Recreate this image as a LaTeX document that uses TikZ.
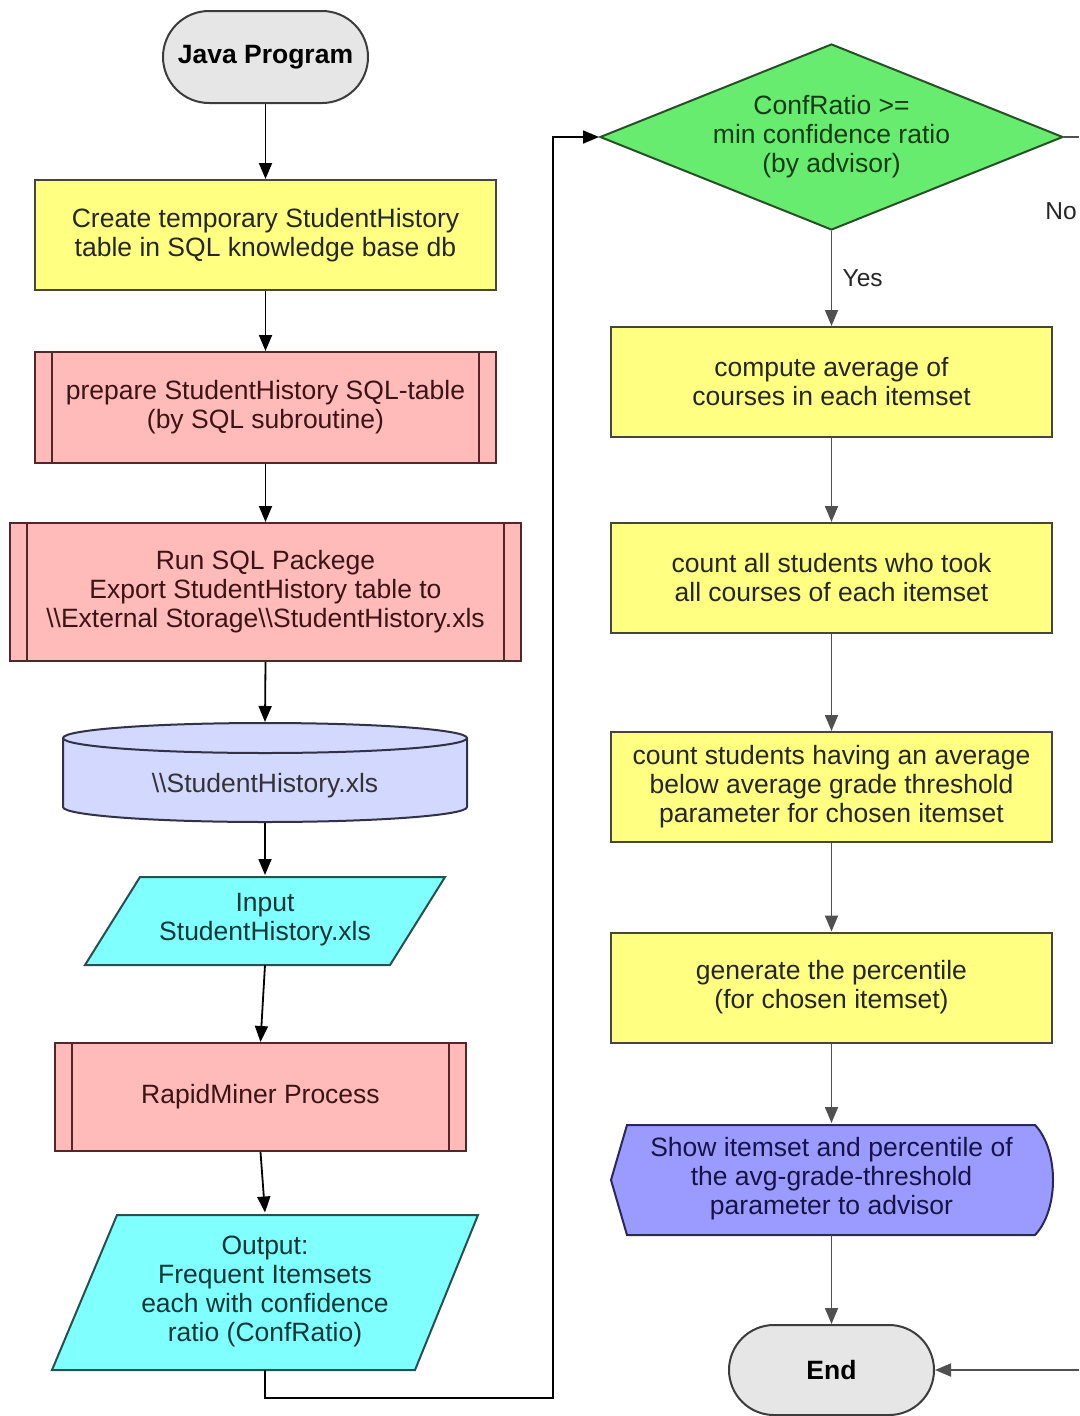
\documentclass[tikz,border=0pt]{standalone}
\usepackage{fontspec}
\setmainfont{Liberation Sans}
\usetikzlibrary{shapes.geometric,shapes.misc,arrows.meta}

\definecolor{yfill}{RGB}{255,255,130}
\definecolor{ybord}{RGB}{70,70,60}
\definecolor{pfill}{RGB}{255,186,186}
\definecolor{pbord}{RGB}{80,40,40}
\definecolor{ptext}{RGB}{60,20,20}
\definecolor{dbfill}{RGB}{210,216,255}
\definecolor{dbbord}{RGB}{50,50,70}
\definecolor{cfill}{RGB}{128,255,255}
\definecolor{cbord}{RGB}{40,80,80}
\definecolor{ctext}{RGB}{15,55,55}
\definecolor{gfill}{RGB}{104,236,112}
\definecolor{gbord}{RGB}{40,80,40}
\definecolor{gtext}{RGB}{20,60,20}
\definecolor{vfill}{RGB}{155,155,255}
\definecolor{vbord}{RGB}{40,40,90}
\definecolor{vtext}{RGB}{20,20,70}
\definecolor{tfill}{RGB}{230,230,230}
\definecolor{tbord}{RGB}{60,60,60}
\definecolor{lgray}{RGB}{80,80,80}

\tikzset{
  base/.style={font=\fontsize{26.5}{29}\selectfont, align=center, inner sep=0pt, line width=2pt},
  term/.style={base, rounded rectangle, draw=tbord, fill=tfill, minimum width=205, minimum height=92},
  proc/.style={base, rectangle, draw=ybord, fill=yfill, text=black!85, minimum width=441, minimum height=110},
  subproc/.style={base, rectangle, draw=pbord, fill=pfill, text=ptext,
    path picture={\draw[pbord, line width=2pt]
      ([xshift=17pt]path picture bounding box.north west) -- ([xshift=17pt]path picture bounding box.south west)
      ([xshift=-17pt]path picture bounding box.north east) -- ([xshift=-17pt]path picture bounding box.south east);}},
  plain/.style={base, draw=none},
  decision/.style={base, diamond, draw=gbord, fill=gfill, text=gtext, aspect=2.5, minimum width=463, minimum height=186},
  arr/.style={line width=1.8pt, -{Triangle[length=16pt,width=13pt]}},
  garr/.style={arr, draw=lgray, color=lgray},
  lbl/.style={font=\fontsize{24.5}{28}\selectfont, text=black!85},
}

\begin{document}
\begin{tikzpicture}[x=1pt,y=-1pt]
\useasboundingbox[fill=white] (0,0) rectangle (1079,1416);

% ---- left column ----
\node[term] (java) at (265.5,57) {\textbf{Java Program}};
\node[proc, minimum width=461] (b1) at (265.5,235) {Create temporary StudentHistory\\table in SQL knowledge base db};
\node[subproc, minimum width=461, minimum height=111] (b2) at (265.5,407.5) {prepare StudentHistory SQL-table\\(by SQL subroutine)};
\node[subproc, minimum width=511, minimum height=138] (b3) at (265.5,592) {Run SQL Packege\\Export StudentHistory table to\\\textbackslash\textbackslash External Storage\textbackslash\textbackslash StudentHistory.xls};

% data store (cylinder) drawn around its node
\draw[fill=dbfill, draw=dbbord, line width=2pt]
  (63,738) -- (63,807) arc[start angle=180, end angle=360, x radius=202pt, y radius=15pt]
  -- (467,738) arc[start angle=0, end angle=180, x radius=202pt, y radius=15pt] -- cycle;
\draw[draw=dbbord, line width=2pt] (63,738) arc[start angle=180, end angle=360, x radius=202pt, y radius=15pt];
\node[plain, minimum width=404, minimum height=99, text=black!80] (db) at (265,772.5) {\raisebox{-20pt}[0pt][0pt]{\textbackslash\textbackslash StudentHistory.xls}};

% input parallelogram
\draw[fill=cfill, draw=cbord, line width=2pt] (140,877) -- (445,877) -- (390,965) -- (85,965) -- cycle;
\node[plain, minimum width=305, minimum height=88, text=ctext] (inp) at (265,920) {Input\\StudentHistory.xls};

\node[subproc, minimum width=411, minimum height=108] (rap) at (260.5,1097) {RapidMiner Process};

% output parallelogram
\draw[fill=cfill, draw=cbord, line width=2pt] (117,1215) -- (478,1215) -- (415,1370) -- (52,1370) -- cycle;
\node[plain, minimum width=361, minimum height=155, text=ctext] (outp) at (265,1291) {Output:\\Frequent Itemsets\\each with confidence\\ratio (ConfRatio)};

% ---- right column ----
\node[decision] (dec) at (831.5,137) {ConfRatio >=\\min confidence ratio\\(by advisor)};
\node[proc] (r1) at (831.5,382) {compute average of\\courses in each itemset};
\node[proc] (r2) at (831.5,578) {count all students who took\\all courses of each itemset};
\node[proc] (r3) at (831.5,787) {count students having an average\\below average grade threshold\\parameter for chosen itemset};
\node[proc] (r4) at (831.5,987.5) {generate the percentile\\(for chosen itemset)};

% display shape
\draw[fill=vfill, draw=vbord, line width=2pt]
  (627,1125) -- (1035,1125) .. controls (1059,1150) and (1059,1210) .. (1035,1235)
  -- (627,1235) -- (611,1180) -- cycle;
\node[plain, minimum width=441, minimum height=110, text=vtext] (disp) at (831.5,1179) {Show itemset and percentile of\\the avg-grade-threshold\\parameter to advisor};

\node[term, minimum height=90] (endn) at (831.5,1370) {\textbf{End}};

% ---- connectors ----
\draw[arr] (java) -- (b1);
\draw[arr] (b1) -- (b2);
\draw[arr] (b2) -- (b3);
\draw[arr] (b3.south) -- (db.north);
\draw[arr] (db.south) -- (inp.north);
\draw[arr] (inp.south) -- (rap.north);
\draw[arr] (rap.south) -- (outp.north);

\coordinate (loopbot) at (553,1398);
\draw[arr] (outp.south) |- (loopbot) |- (dec.west);

\draw[garr] (dec.south) -- node[lbl, pos=0.5, anchor=west, xshift=7pt] {Yes} (r1.north);
\draw[garr] (r1) -- (r2);
\draw[garr] (r2) -- (r3);
\draw[garr] (r3) -- (r4);
\draw[garr] (r4.south) -- (disp.north);
\draw[garr] (disp.south) -- (endn.north);

\coordinate (noout) at (1079,137);
\coordinate (noin) at (1079,1370);
\draw[draw=lgray, line width=1.8pt] (dec.east) -- (noout);
\node[lbl] (nolbl) at (1061,211) {No};
\draw[garr] (noin) -- (endn.east);
\end{tikzpicture}
\end{document}
